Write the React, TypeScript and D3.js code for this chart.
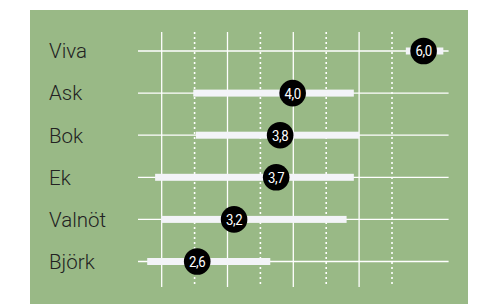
import React, { useEffect, useRef } from 'react'
import * as d3 from 'd3'

// tree species, top to bottom
const species = ['Viva', 'Ask', 'Bok', 'Ek', 'Valnöt', 'Björk']
// range of the white bars
const lows = [5.71, 2.48, 2.52, 1.9, 1.99, 1.78]
const highs = [6.28, 4.92, 5.0, 4.92, 4.81, 3.65]
// dot position and the label printed in it
const means = [5.98, 3.99, 3.8, 3.74, 3.1, 2.54]
const meanLabels = ['6,0', '4,0', '3,8', '3,7', '3,2', '2,6']
// grid ticks
const solidTicks = [2, 3, 4, 5]
const dottedTicks = [2.5, 3.5, 4.5, 5.5]

const W = 484
const H = 304
const GREEN = '#99b986'
const BAR = '#f3f4f8'

export default function App() {
  const svgRef = useRef<SVGSVGElement>(null)

  useEffect(() => {
    const svg = d3.select(svgRef.current)
    svg.selectAll('*').remove()

    const x = d3.scaleLinear().domain([1.64, 6.36]).range([138, 448.6])
    const y = d3.scalePoint<string>().domain(species).range([51, 261.5])

    const rows = species.map((s, i) => ({
      name: s, lo: lows[i], hi: highs[i], mean: means[i], label: meanLabels[i],
    }))

    svg.append('rect').attr('width', W).attr('height', H).attr('fill', '#fff')
    svg.append('rect')
      .attr('x', 30).attr('y', 10)
      .attr('width', 438).attr('height', 294)
      .attr('fill', GREEN)

    // vertical grid
    const grid = svg.append('g')
    grid.selectAll('line.solid')
      .data(solidTicks)
      .join('line')
      .attr('class', 'solid')
      .attr('x1', d => x(d)).attr('x2', d => x(d))
      .attr('y1', 32).attr('y2', 287)
      .attr('stroke', '#fff').attr('stroke-width', 1.3)
    grid.selectAll('line.dot')
      .data(dottedTicks)
      .join('line')
      .attr('class', 'dot')
      .attr('x1', d => x(d)).attr('x2', d => x(d))
      .attr('y1', 32).attr('y2', 287)
      .attr('stroke', '#fff').attr('stroke-width', 1.6)
      .attr('stroke-dasharray', '2,3')

    const row = svg.selectAll('g.row')
      .data(rows)
      .join('g')
      .attr('class', 'row')
      .attr('transform', d => `translate(0,${y(d.name)})`)

    // thin full-width line
    row.append('line')
      .attr('x1', x.range()[0]).attr('x2', x.range()[1])
      .attr('stroke', '#fff').attr('stroke-width', 1.3)

    // category labels
    row.append('text')
      .attr('x', 49)
      .attr('dy', '0.36em')
      .attr('font-family', 'Roboto, sans-serif')
      .attr('font-weight', 300)
      .attr('font-size', 20.5)
      .attr('fill', '#222')
      .text(d => d.name)

    // range bars
    row.append('rect')
      .attr('x', d => x(d.lo))
      .attr('y', -3.5)
      .attr('width', d => x(d.hi) - x(d.lo))
      .attr('height', 7)
      .attr('fill', BAR)

    // mean dots
    row.append('circle')
      .attr('cx', d => x(d.mean))
      .attr('r', 13.3)
      .attr('fill', '#000')

    // condensed-looking value labels
    row.append('text')
      .attr('transform', d => `translate(${x(d.mean)},0) scale(0.88,1)`)
      .attr('dy', '0.36em')
      .attr('text-anchor', 'middle')
      .attr('font-family', 'Roboto, sans-serif')
      .attr('font-size', 15)
      .attr('letter-spacing', -0.4)
      .attr('fill', '#fff')
      .text(d => d.label)
  }, [])

  return (
    <svg
      ref={svgRef}
      width={W}
      height={H}
      style={{ position: 'absolute', left: 0, top: 0, display: 'block' }}
    />
  )
}
